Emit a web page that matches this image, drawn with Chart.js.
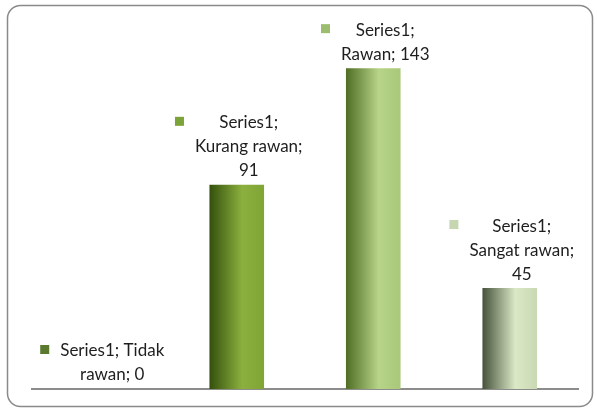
<!DOCTYPE html>
<html>
<head>
<meta charset="utf-8">
<script src="https://cdn.jsdelivr.net/npm/chart.js@4"></script>
<style>
  html, body { margin: 0; padding: 0; background: #fff; }
  #wrap { position: absolute; left: 0; top: 0; width: 597px; height: 410px; }
</style>
</head>
<body>
<div id="wrap"><canvas id="myChart"></canvas></div>
<script>
let seriesName = 'Series1';
let categories = ['Tidak rawan', 'Kurang rawan', 'Rawan', 'Sangat rawan'];
let values = [0, 91, 143, 45];

// legend key colours + bar gradient stops (left dark, light middle, right edge)
let keyColors = ['#5b7a2e', '#7ba337', '#9dbd6e', '#c6d6b0'];
let gradColors = [
  ['#3f5a18', '#7ea33a', '#6f9630'],
  ['#34500c', '#8cb03e', '#7fa535'],
  ['#4f6e24', '#b7d488', '#a9c879'],
  ['#45523a', '#dbe8c6', '#c9d9b2']
];

function barGradient(context) {
  const chart = context.chart;
  const area = chart.chartArea;
  const i = context.dataIndex;
  if (!area || i === undefined) return keyColors[0];
  const xs = chart.scales.x;
  const cx = xs.getPixelForValue(i);
  const w = (area.right - area.left) / categories.length * 0.4;
  const g = chart.ctx.createLinearGradient(cx - w / 2, 0, cx + w / 2, 0);
  const c = gradColors[i];
  g.addColorStop(0, c[0]);
  g.addColorStop(0.6, c[1]);
  g.addColorStop(1, c[2]);
  return g;
}

function wrapText(ctx, text, maxW) {
  const words = text.split(' ');
  let lines = [];
  let cur = '';
  words.forEach(w => {
    const test = cur ? cur + ' ' + w : w;
    if (cur && ctx.measureText(test).width > maxW) {
      lines.push(cur);
      cur = w;
    } else {
      cur = test;
    }
  });
  if (cur) lines.push(cur);
  return lines;
}

const frame = {
  id: 'frame',
  beforeDraw(chart) {
    const ctx = chart.ctx;
    ctx.save();
    ctx.fillStyle = '#fff';
    ctx.fillRect(0, 0, chart.width, chart.height);
    ctx.strokeStyle = '#8a8a8a';
    ctx.lineWidth = 1.5;
    ctx.beginPath();
    ctx.roundRect(7.5, 5.5, 585, 401, 13);
    ctx.stroke();
    ctx.restore();
  }
};

const barLabels = {
  id: 'barLabels',
  afterDatasetsDraw(chart) {
    const ctx = chart.ctx;
    const meta = chart.getDatasetMeta(0);
    ctx.save();
    ctx.font = '17px Lato';
    ctx.textAlign = 'center';
    ctx.textBaseline = 'middle';
    meta.data.forEach((bar, i) => {
      const text = seriesName + '; ' + categories[i] + '; ' + values[i];
      const lines = wrapText(ctx, text, 110);
      let blockW = 0;
      lines.forEach(l => { blockW = Math.max(blockW, ctx.measureText(l).width); });
      const left = bar.x + 2 - (blockW + 20) / 2;
      const tx = left + 20 + blockW / 2;
      const lastY = bar.y - 14;
      const firstY = lastY - (lines.length - 1) * 24;
      ctx.fillStyle = '#1e1e1e';
      lines.forEach((l, k) => ctx.fillText(l, tx, firstY + k * 24));
      ctx.fillStyle = keyColors[i];
      ctx.fillRect(left, firstY - 6, 9, 9);
    });
    ctx.restore();
  }
};

const data = {
  labels: categories,
  datasets: [{
    label: seriesName,
    data: values,
    backgroundColor: barGradient,
    borderWidth: 0,
    barPercentage: 0.4,
    categoryPercentage: 1
  }]
};

const config = {
  type: 'bar',
  data: data,
  options: {
    responsive: false,
    animation: false,
    layout: { padding: { left: 32, right: 19, top: 30, bottom: 21 } },
    plugins: {
      legend: { display: false },
      tooltip: { enabled: false }
    },
    scales: {
      x: {
        grid: { display: false, drawTicks: false },
        ticks: { display: false },
        border: { display: true, color: '#8c8c8c', width: 2 }
      },
      y: {
        display: false,
        min: 0,
        max: 160
      }
    }
  },
  plugins: [frame, barLabels]
};

const cv = document.getElementById('myChart');
cv.width = 597;
cv.height = 410;
cv.style.width = '597px';
cv.style.height = '410px';
const myChart = new Chart(cv, config);
</script>
</body>
</html>
